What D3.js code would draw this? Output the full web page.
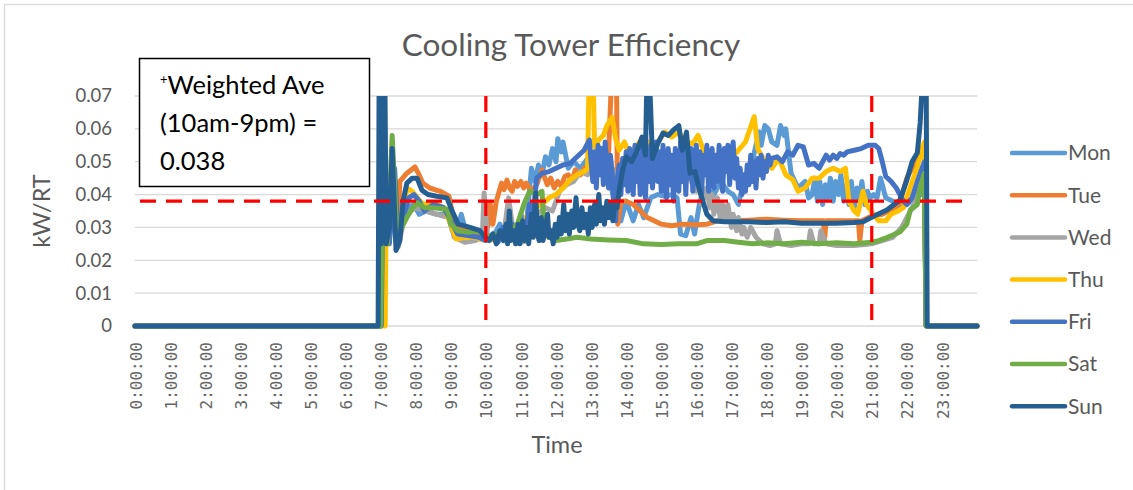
<!DOCTYPE html>
<html>
<head>
<meta charset="utf-8">
<script src="https://cdn.jsdelivr.net/npm/d3@7"></script>
<style>
  body { margin: 0; background: #fff; }
  svg { display: block; }
</style>
</head>
<body>
<div id="chart"></div>
<script>
// hours since midnight, kW/RT  (0.08 = runs off the top of the plot)
var dayNames = ["Mon", "Tue", "Wed", "Thu", "Fri", "Sat", "Sun"];

var mon = [[0,0],[7.0,0],[7.05,0.025],[7.25,0.04],[7.45,0.025],[7.6,0.030],[7.75,0.036],[7.95,0.037],[8.1,0.034],[8.3,0.035],[8.6,0.034],[8.9,0.034],[9.05,0.029],[9.2,0.030],[9.3,0.034],[9.45,0.028],[9.7,0.027],[10.0,0.026],[10.2,0.027],[10.4,0.031],[10.5,0.027],[10.7,0.033],[10.85,0.027],[11.0,0.034],[11.15,0.030],[11.3,0.048],[11.4,0.044],[11.5,0.049],[11.6,0.046],[11.7,0.0515],[11.8,0.049],[11.9,0.054],[12.0,0.050],[12.05,0.057],[12.15,0.053],[12.2,0.056],[12.35,0.048],[12.5,0.050],[12.7,0.048],[12.9,0.051],[13.1,0.047],[13.3,0.050],[13.5,0.046],[13.7,0.036],[13.85,0.032],[14.0,0.038],[14.2,0.032],[14.35,0.037],[14.5,0.033],[14.7,0.039],[14.9,0.040],[15.1,0.0395],[15.3,0.040],[15.45,0.039],[15.55,0.028],[15.7,0.0275],[15.85,0.033],[15.95,0.028],[16.1,0.038],[16.3,0.042],[16.5,0.040],[16.7,0.044],[16.9,0.041],[17.05,0.040],[17.2,0.037],[17.35,0.044],[17.55,0.048],[17.7,0.055],[17.8,0.059],[17.85,0.055],[17.95,0.061],[18.05,0.060],[18.15,0.056],[18.3,0.055],[18.4,0.061],[18.5,0.058],[18.55,0.060],[18.7,0.0465],[18.9,0.042],[19.1,0.044],[19.2,0.039],[19.3,0.040],[19.38,0.045],[19.45,0.038],[19.52,0.044],[19.6,0.037],[19.68,0.043],[19.75,0.039],[19.82,0.045],[19.9,0.038],[19.97,0.044],[20.05,0.040],[20.12,0.046],[20.2,0.038],[20.28,0.043],[20.35,0.037],[20.42,0.044],[20.5,0.036],[20.58,0.042],[20.65,0.038],[20.72,0.044],[20.8,0.037],[20.88,0.041],[20.95,0.039],[21.05,0.040],[21.15,0.039],[21.25,0.045],[21.4,0.039],[21.6,0.038],[21.8,0.036],[22.0,0.037],[22.2,0.039],[22.4,0.040],[22.5,0.040],[22.55,0],[24,0]];

var tue = [[0,0],[7.0,0],[7.06,0.030],[7.2,0.025],[7.35,0.045],[7.48,0.027],[7.55,0.044],[7.75,0.0465],[7.98,0.0484],[8.1,0.046],[8.2,0.0435],[8.4,0.042],[8.7,0.041],[8.95,0.0395],[9.05,0.034],[9.2,0.030],[9.5,0.029],[9.8,0.028],[10.0,0.028],[10.07,0.031],[10.12,0.0375],[10.2,0.031],[10.3,0.038],[10.45,0.0435],[10.52,0.0415],[10.6,0.0444],[10.68,0.042],[10.75,0.041],[10.82,0.044],[10.9,0.0425],[11.0,0.044],[11.08,0.042],[11.15,0.0435],[11.3,0.041],[11.45,0.043],[11.6,0.0475],[11.75,0.043],[11.85,0.045],[11.95,0.042],[12.05,0.044],[12.15,0.0425],[12.25,0.0455],[12.35,0.046],[12.45,0.044],[12.55,0.0475],[12.7,0.046],[12.8,0.048],[13.05,0.049],[13.3,0.052],[13.5,0.053],[13.6,0.08],[13.72,0.08],[13.76,0.031],[13.85,0.038],[14.0,0.038],[14.2,0.037],[14.4,0.035],[14.6,0.033],[14.8,0.032],[15.0,0.031],[15.3,0.0305],[15.6,0.031],[16.0,0.0308],[16.3,0.031],[16.6,0.032],[17.0,0.032],[17.5,0.0322],[18.0,0.0325],[18.5,0.0322],[19.0,0.032],[19.5,0.032],[19.62,0.032],[19.66,0.027],[19.7,0.032],[20.0,0.032],[20.3,0.032],[20.62,0.032],[20.66,0.026],[20.72,0.032],[21.0,0.0335],[21.3,0.034],[21.6,0.0355],[21.8,0.0375],[22.0,0.045],[22.15,0.048],[22.3,0.0515],[22.5,0.052],[22.55,0],[24,0]];

var wed = [[0,0],[7.0,0],[7.05,0.030],[7.3,0.040],[7.5,0.024],[7.7,0.034],[8.0,0.036],[8.3,0.035],[8.6,0.034],[8.95,0.033],[9.1,0.027],[9.4,0.0255],[9.7,0.026],[9.9,0.027],[9.95,0.0405],[10.05,0.027],[10.3,0.026],[10.5,0.027],[10.65,0.039],[10.8,0.027],[11.0,0.0255],[11.2,0.026],[11.45,0.034],[11.7,0.036],[11.9,0.035],[12.1,0.041],[12.3,0.043],[12.5,0.044],[12.7,0.047],[12.9,0.046],[13.1,0.049],[13.3,0.048],[13.5,0.050],[13.7,0.046],[14.0,0.049],[14.3,0.045],[14.6,0.048],[15.0,0.046],[15.3,0.049],[15.5,0.047],[15.7,0.0495],[15.85,0.044],[15.95,0.047],[16.0,0.041],[16.1,0.044],[16.15,0.037],[16.3,0.042],[16.38,0.036],[16.45,0.040],[16.5,0.034],[16.6,0.039],[16.68,0.033],[16.75,0.037],[16.82,0.032],[16.9,0.037],[17.0,0.030],[17.05,0.034],[17.15,0.029],[17.2,0.033],[17.3,0.028],[17.35,0.030],[17.45,0.027],[17.55,0.030],[17.7,0.027],[17.9,0.025],[18.1,0.0245],[18.25,0.025],[18.3,0.029],[18.4,0.025],[18.7,0.0245],[19.0,0.025],[19.2,0.025],[19.25,0.029],[19.35,0.025],[19.5,0.025],[19.55,0.029],[19.7,0.025],[20.0,0.0245],[20.5,0.0245],[21.0,0.025],[21.3,0.026],[21.6,0.027],[21.85,0.030],[22.0,0.033],[22.2,0.037],[22.35,0.041],[22.5,0.045],[22.55,0],[24,0]];

var thu = [[0,0],[7.13,0],[7.15,0.025],[7.25,0.030],[7.33,0.050],[7.45,0.025],[7.6,0.032],[7.75,0.042],[7.9,0.041],[8.05,0.039],[8.2,0.037],[8.5,0.0375],[8.8,0.036],[9.0,0.031],[9.15,0.0265],[9.4,0.027],[9.7,0.027],[10.0,0.026],[10.3,0.0265],[10.6,0.028],[10.9,0.027],[11.2,0.034],[11.4,0.036],[11.6,0.037],[11.8,0.039],[12.0,0.040],[12.2,0.042],[12.4,0.0445],[12.6,0.046],[12.8,0.047],[12.9,0.048],[12.95,0.08],[13.05,0.08],[13.1,0.0545],[13.25,0.057],[13.35,0.058],[13.45,0.061],[13.6,0.0635],[13.7,0.057],[13.8,0.0535],[13.95,0.056],[14.1,0.052],[14.3,0.055],[14.5,0.0575],[14.7,0.0545],[14.9,0.056],[15.1,0.059],[15.3,0.0575],[15.5,0.059],[15.7,0.056],[15.9,0.0555],[16.05,0.058],[16.2,0.0535],[16.4,0.0505],[16.6,0.052],[16.8,0.0535],[17.0,0.051],[17.2,0.0535],[17.4,0.056],[17.65,0.0637],[17.75,0.054],[17.95,0.050],[18.15,0.048],[18.35,0.051],[18.55,0.046],[18.75,0.0445],[18.9,0.041],[19.1,0.042],[19.3,0.045],[19.5,0.045],[19.7,0.047],[19.9,0.048],[20.1,0.047],[20.25,0.048],[20.35,0.038],[20.5,0.035],[20.6,0.034],[20.75,0.041],[20.85,0.037],[21.05,0.034],[21.2,0.032],[21.4,0.032],[21.55,0.034],[21.75,0.035],[21.9,0.036],[22.1,0.0423],[22.3,0.0484],[22.45,0.0545],[22.5,0.056],[22.55,0],[24,0]];

var fri = [[0,0],[7.02,0],[7.06,0.035],[7.25,0.025],[7.4,0.048],[7.5,0.026],[7.65,0.033],[7.8,0.039],[7.95,0.040],[8.1,0.038],[8.25,0.035],[8.5,0.037],[8.8,0.036],[9.0,0.032],[9.2,0.028],[9.5,0.0275],[9.8,0.027],[10.0,0.026],[10.2,0.028],[10.35,0.0255],[10.5,0.030],[10.6,0.026],[10.75,0.031],[10.85,0.026],[11.0,0.033],[11.1,0.027],[11.25,0.037],[11.35,0.034],[11.45,0.045],[11.6,0.0465],[11.8,0.047],[12.0,0.048],[12.2,0.049],[12.4,0.0495],[12.6,0.0515],[12.8,0.0535],[12.95,0.0566],
  [13.0,0.050],[13.05,0.044],[13.1,0.053],[13.15,0.042],[13.2,0.055],[13.25,0.046],[13.3,0.054],[13.35,0.043],[13.4,0.056],[13.45,0.048],[13.5,0.042],[13.55,0.052],[13.6,0.047],[13.65,0.036],[13.7,0.032],[13.75,0.045],[13.8,0.049],[13.85,0.040],[13.9,0.051],[13.95,0.043],[14.0,0.053],[14.05,0.041],[14.1,0.054],[14.15,0.046],[14.2,0.040],[14.25,0.055],[14.3,0.044],[14.35,0.052],[14.4,0.040],[14.45,0.055],[14.5,0.047],[14.55,0.039],[14.6,0.053],[14.65,0.044],[14.7,0.055],[14.75,0.042],[14.8,0.050],[14.85,0.056],[14.9,0.044],[14.95,0.053],[15.0,0.041],[15.05,0.055],[15.1,0.046],[15.15,0.039],[15.2,0.054],[15.25,0.043],[15.3,0.052],[15.35,0.038],[15.4,0.054],[15.45,0.047],[15.5,0.041],[15.55,0.056],[15.6,0.044],[15.65,0.053],[15.7,0.040],[15.75,0.055],[15.8,0.045],[15.85,0.054],[15.9,0.041],[15.95,0.050],[16.0,0.055],[16.05,0.043],[16.1,0.053],[16.15,0.040],[16.2,0.052],[16.25,0.046],[16.3,0.055],[16.35,0.041],[16.4,0.050],[16.45,0.054],[16.5,0.042],[16.55,0.052],[16.6,0.044],[16.65,0.055],[16.7,0.046],[16.75,0.041],[16.8,0.054],[16.85,0.047],[16.9,0.055],[16.95,0.043],[17.0,0.052],[17.05,0.056],[17.1,0.045],[17.15,0.051],[17.2,0.042],[17.25,0.048],[17.3,0.040],[17.35,0.046],[17.4,0.041],[17.45,0.049],[17.5,0.043],[17.55,0.052],[17.6,0.044],[17.65,0.050],[17.7,0.042],[17.75,0.051],[17.8,0.046],[17.85,0.052],[17.9,0.045],[17.95,0.050],[18.0,0.047],[18.05,0.052],[18.1,0.049],[18.15,0.051],
  [18.3,0.0515],[18.45,0.050],[18.6,0.053],[18.75,0.052],[18.9,0.055],[19.05,0.0545],[19.2,0.049],[19.35,0.0495],[19.5,0.048],[19.6,0.050],[19.7,0.052],[19.8,0.0505],[19.9,0.052],[20.0,0.051],[20.1,0.0525],[20.2,0.052],[20.3,0.053],[20.5,0.0535],[20.7,0.054],[20.9,0.055],[21.1,0.055],[21.2,0.054],[21.3,0.050],[21.4,0.0455],[21.55,0.044],[21.7,0.042],[21.8,0.040],[21.9,0.038],[22.0,0.037],[22.15,0.039],[22.3,0.044],[22.5,0.050],[22.55,0],[24,0]];

var sat = [[0,0],[7.0,0],[7.05,0.030],[7.2,0.025],[7.33,0.058],[7.48,0.025],[7.6,0.030],[7.75,0.033],[7.92,0.036],[8.05,0.0375],[8.25,0.036],[8.5,0.036],[8.9,0.0355],[9.0,0.031],[9.2,0.029],[9.5,0.0285],[9.8,0.029],[10.0,0.027],[10.3,0.028],[10.6,0.028],[10.9,0.031],[11.1,0.0375],[11.25,0.041],[11.45,0.040],[11.6,0.041],[11.68,0.028],[11.8,0.027],[12.0,0.026],[12.3,0.0265],[12.6,0.027],[13.0,0.0265],[13.5,0.0262],[14.0,0.026],[14.5,0.025],[15.0,0.0248],[15.5,0.025],[16.0,0.025],[16.3,0.026],[16.8,0.026],[17.2,0.0255],[17.6,0.025],[18.0,0.0253],[18.5,0.025],[19.0,0.0255],[19.5,0.025],[20.0,0.0253],[20.5,0.025],[21.0,0.0255],[21.2,0.026],[21.45,0.027],[21.8,0.0286],[22.0,0.031],[22.1,0.0353],[22.3,0.037],[22.38,0.0423],[22.5,0.0465],[22.55,0],[24,0]];

var sun = [[0,0],[6.93,0],[6.96,0.08],[7.02,0.025],[7.07,0.08],[7.12,0.08],[7.16,0.025],[7.25,0.030],[7.33,0.054],[7.44,0.023],[7.55,0.026],[7.64,0.038],[7.75,0.0435],[7.9,0.045],[8.04,0.045],[8.18,0.0413],[8.35,0.040],[8.6,0.0395],[8.89,0.039],[9.04,0.035],[9.21,0.031],[9.55,0.030],[9.83,0.029],[9.98,0.027],
  [10.1,0.026],[10.2,0.028],[10.3,0.025],[10.4,0.029],[10.5,0.026],[10.58,0.031],[10.62,0.025],[10.67,0.035],[10.72,0.026],[10.8,0.029],[10.85,0.025],[10.92,0.031],[10.97,0.025],[11.05,0.032],[11.1,0.026],[11.17,0.030],[11.22,0.025],[11.3,0.034],[11.35,0.027],[11.42,0.0405],[11.47,0.028],[11.52,0.026],[11.58,0.033],[11.63,0.026],[11.7,0.030],[11.76,0.034],[11.8,0.027],[11.87,0.029],[11.92,0.025],[11.98,0.031],[12.03,0.027],[12.1,0.033],[12.15,0.028],[12.22,0.037],[12.27,0.029],[12.33,0.034],[12.38,0.028],[12.45,0.035],[12.5,0.030],[12.57,0.039],[12.62,0.031],[12.68,0.029],[12.74,0.036],[12.8,0.030],[12.86,0.034],[12.92,0.028],[12.98,0.036],[13.03,0.030],[13.1,0.037],[13.15,0.031],[13.22,0.040],[13.27,0.032],[13.33,0.036],[13.38,0.031],[13.45,0.038],[13.5,0.033],[13.57,0.037],[13.62,0.032],[13.68,0.038],[13.74,0.036],[13.8,0.041],
  [13.9,0.0475],[14.0,0.0515],[14.15,0.050],[14.3,0.053],[14.45,0.0575],[14.55,0.052],[14.6,0.08],[14.65,0.08],[14.75,0.051],[14.9,0.0555],[15.05,0.0587],[15.2,0.058],[15.35,0.0597],[15.5,0.061],[15.6,0.0535],[15.72,0.059],[15.82,0.0465],[15.96,0.047],[16.1,0.041],[16.3,0.034],[16.48,0.032],[16.8,0.0317],[17.5,0.0317],[18.0,0.0315],[18.5,0.0317],[19.0,0.0313],[19.5,0.0313],[20.0,0.0313],[20.5,0.0315],[20.75,0.0317],[21.04,0.0333],[21.43,0.0353],[21.8,0.0383],[22.0,0.0444],[22.15,0.050],[22.3,0.0527],[22.38,0.0618],[22.47,0.08],[22.55,0.08],[22.58,0],[24,0]];

var series = [mon, tue, wed, thu, fri, sat, sun];
var colors = ["#5B9BD5", "#ED7D31", "#A5A5A5", "#FFC000", "#4472C4", "#70AD47", "#255E91"];

var yTicks = [0, 0.01, 0.02, 0.03, 0.04, 0.05, 0.06, 0.07];
var yTickLabels = ["0", "0.01", "0.02", "0.03", "0.04", "0.05", "0.06", "0.07"];
var xTicks = [0,1,2,3,4,5,6,7,8,9,10,11,12,13,14,15,16,17,18,19,20,21,22,23];
var xTickLabels = ["0:00:00","1:00:00","2:00:00","3:00:00","4:00:00","5:00:00","6:00:00","7:00:00","8:00:00","9:00:00","10:00:00","11:00:00","12:00:00","13:00:00","14:00:00","15:00:00","16:00:00","17:00:00","18:00:00","19:00:00","20:00:00","21:00:00","22:00:00","23:00:00"];

var weightedAve = 0.038;
var windowStart = 10, windowEnd = 21;

var width = 1133;
var height = 490;
var plotLeft = 135, plotRight = 977, plotTop = 96, plotBottom = 326;
var font = "Lato, 'Open Sans', sans-serif";
var grey = "#595959";

var svg = d3.select("#chart").
  append("svg").
  attr("width", width).
  attr("height", height);

// outer chart frame
svg.append("rect").
  attr("x", 4.5).attr("y", 4.5).
  attr("width", 1300).attr("height", 700).
  attr("fill", "none").
  attr("stroke", "#d9d9d9").
  attr("stroke-width", 1.3);

var xScale = d3.scaleLinear().domain([0, 24]).range([plotLeft, plotRight]);
var yScale = d3.scaleLinear().domain([0, 0.07]).range([plotBottom, plotTop]);

// gridlines
svg.append("g").
  selectAll("line").
  data(yTicks).
  enter().
  append("line").
  attr("x1", plotLeft).attr("x2", plotRight).
  attr("y1", function (d) {return yScale(d);}).
  attr("y2", function (d) {return yScale(d);}).
  attr("stroke", "#d9d9d9").
  attr("stroke-width", 1.3);

// y tick labels
svg.append("g").
  selectAll("text").
  data(yTicks).
  enter().
  append("text").
  attr("x", 112).
  attr("y", function (d) {return yScale(d);}).
  attr("dy", "0.35em").
  attr("text-anchor", "end").
  style("font-family", font).
  style("font-size", "18.5px").
  style("fill", grey).
  text(function (d, i) {return yTickLabels[i];});

// x tick labels, rotated
svg.append("g").
  selectAll("text").
  data(xTicks).
  enter().
  append("text").
  attr("transform", function (d) {return "translate(" + (xScale(d) + 1) + "," + 342 + ") rotate(-90)";}).
  attr("dy", "0.35em").
  attr("text-anchor", "end").
  style("font-family", "'DejaVu Sans Mono', monospace").
  style("font-size", "16px").
  style("fill", "#666").
  text(function (d, i) {return xTickLabels[i];});

// lines
svg.append("defs").
  append("clipPath").
  attr("id", "plotclip").
  append("rect").
  attr("x", plotLeft - 5).attr("y", plotTop).
  attr("width", plotRight - plotLeft + 10).attr("height", plotBottom - plotTop + 6);

var line = d3.line().
  x(function (d) {return xScale(d[0]);}).
  y(function (d) {return yScale(d[1]);});

svg.append("g").
  attr("clip-path", "url(#plotclip)").
  selectAll("path").
  data(series).
  enter().
  append("path").
  attr("d", line).
  attr("fill", "none").
  attr("stroke", function (d, i) {return colors[i];}).
  attr("stroke-width", 5).
  attr("stroke-linejoin", "round").
  attr("stroke-linecap", "round");

// red dashed markers
svg.append("line").
  attr("x1", 140).attr("x2", 972).
  attr("y1", yScale(weightedAve)).attr("y2", yScale(weightedAve)).
  attr("stroke", "#ff0000").
  attr("stroke-width", 3.2).
  attr("stroke-dasharray", "16,10");

[windowStart, windowEnd].forEach(function (h) {
  svg.append("line").
    attr("x1", xScale(h)).attr("x2", xScale(h)).
    attr("y1", plotTop).attr("y2", plotBottom).
    attr("stroke", "#ff0000").
    attr("stroke-width", 3.2).
    attr("stroke-dasharray", "16,10");
});

// title
svg.append("text").
  attr("x", 571).
  attr("y", 56).
  attr("text-anchor", "middle").
  style("font-family", font).
  style("font-size", "31.5px").
  style("fill", grey).
  text("Cooling Tower Efficiency");

// axis titles
svg.append("text").
  attr("transform", "translate(42," + 211 + ") rotate(-90)").
  attr("text-anchor", "middle").
  attr("dy", "0.35em").
  style("font-family", font).
  style("font-size", "23.5px").
  style("fill", grey).
  text("kW/RT");

svg.append("text").
  attr("x", 557).
  attr("y", 453).
  attr("text-anchor", "middle").
  style("font-family", font).
  style("font-size", "23.5px").
  style("fill", grey).
  text("Time");

// annotation box
svg.append("rect").
  attr("x", 139.5).attr("y", 58.5).
  attr("width", 230).attr("height", 128).
  attr("fill", "#fff").
  attr("stroke", "#000").
  attr("stroke-width", 1.5);

var note = svg.append("text").
  attr("x", 160).
  attr("y", 94).
  style("font-family", font).
  style("font-size", "25.5px").
  style("fill", "#000");
note.append("tspan").style("font-size", "13px").attr("dy", -10).text("+");
note.append("tspan").attr("dy", 10).text("Weighted Ave");

svg.append("text").
  attr("x", 160).attr("y", 132).
  style("font-family", font).
  style("font-size", "25.5px").
  style("fill", "#000").
  text("(10am-9pm) =");

svg.append("text").
  attr("x", 160).attr("y", 170).
  style("font-family", font).
  style("font-size", "25.5px").
  style("fill", "#000").
  text(weightedAve.toFixed(3));

// legend
var legend = svg.append("g").
  selectAll("g").
  data(dayNames).
  enter().
  append("g").
  attr("transform", function (d, i) {return "translate(1012," + (153 + i * 42.2) + ")";});

legend.append("line").
  attr("x1", 0).attr("x2", 53).
  attr("stroke", function (d, i) {return colors[i];}).
  attr("stroke-width", 4.5).
  attr("stroke-linecap", "round");

legend.append("text").
  attr("x", 56).
  attr("dy", "0.35em").
  style("font-family", font).
  style("font-size", "21px").
  style("fill", grey).
  text(function (d) {return d;});
</script>
</body>
</html>
